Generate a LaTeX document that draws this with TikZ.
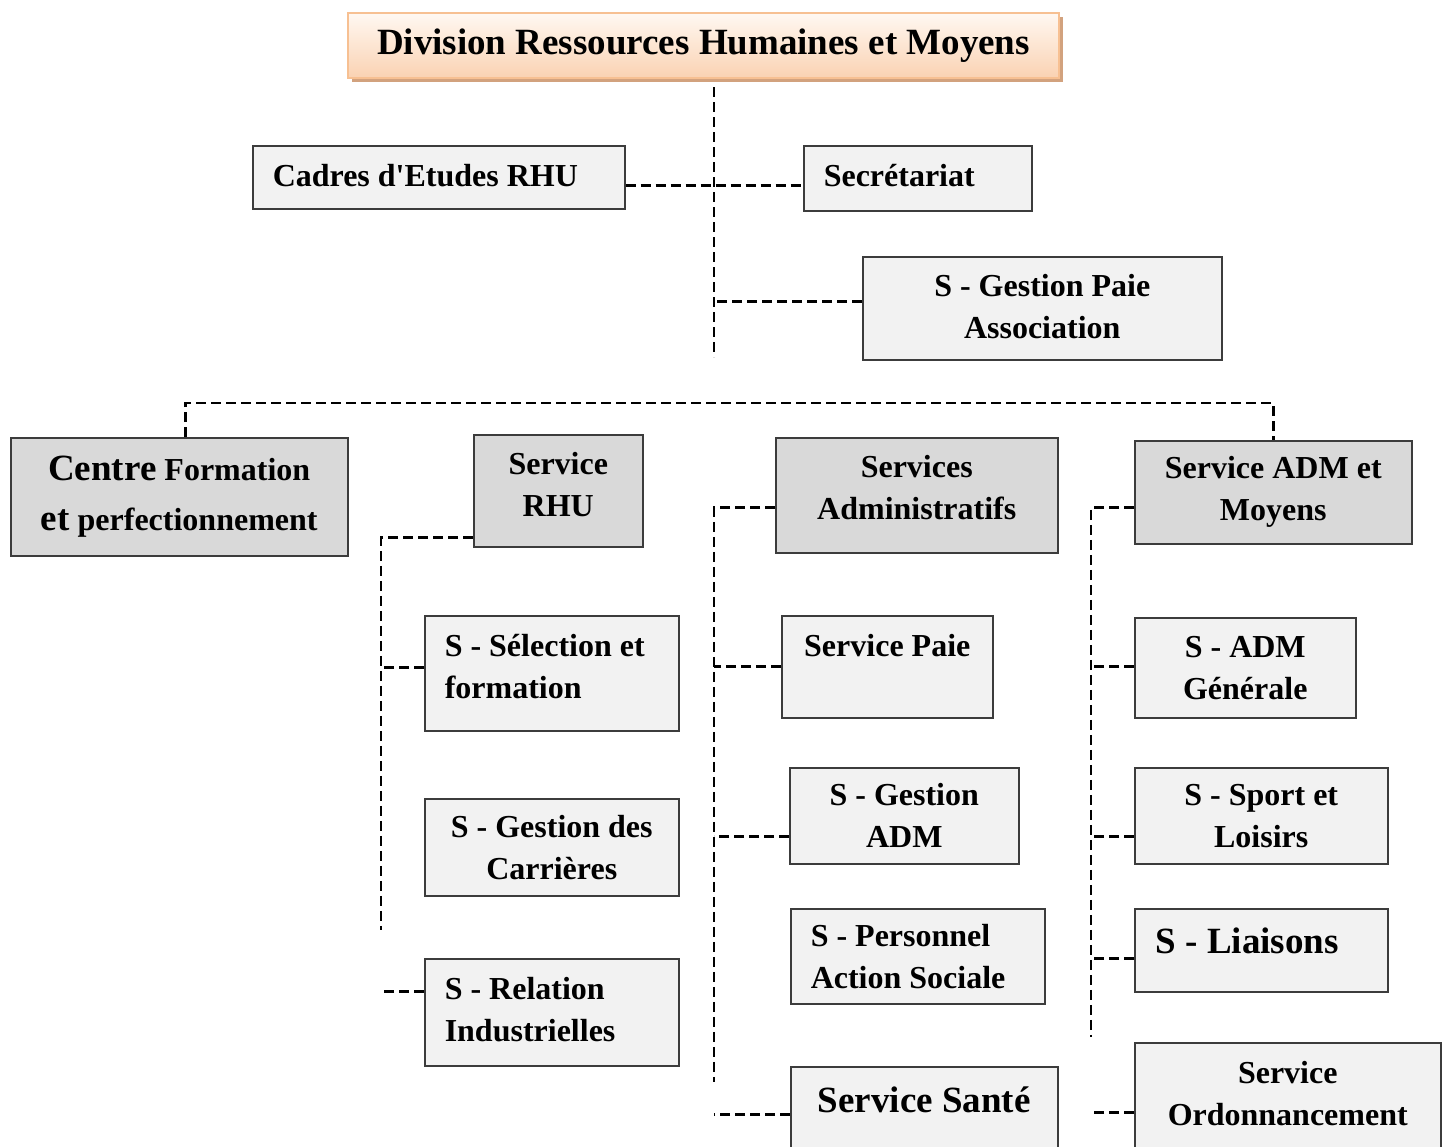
\documentclass[tikz,border=0pt]{standalone}
\usepackage{fontspec}
\setmainfont{Liberation Serif}
\usetikzlibrary{shadows}
\definecolor{paleBox}{RGB}{242,242,242}
\definecolor{headBox}{RGB}{217,217,217}
\definecolor{boxEdge}{RGB}{60,60,60}
\definecolor{peachTop}{RGB}{255,248,242}
\definecolor{peachBottom}{RGB}{250,210,178}
\definecolor{peachEdge}{RGB}{247,192,146}
\definecolor{peachShade}{RGB}{210,162,126}
\newcommand{\boxfont}{\fontsize{32}{42}\selectfont\bfseries}
\newcommand{\bigboxfont}{\fontsize{37}{48}\selectfont\bfseries}
% extra depth on the last line, lifts the text by half of it
\newcommand{\lift}[1]{\rule[-#1]{0pt}{#1}}

\begin{document}
\begin{tikzpicture}[
  x=1pt, y=-1pt,
  cell/.style={draw=boxEdge, line width=1.5pt, fill=paleBox, inner sep=0pt, anchor=north west, font=\boxfont, align=center},
  head/.style={cell, fill=headBox},
  wh/.style 2 args={minimum width=#1, minimum height=#2},
  lefttext/.style={align=flush left, text width=#1},
  link/.style={line width=2.6pt, dash pattern=on 10pt off 5pt}
]
\clip (0,0) rectangle (1443,1146);

% division head
\node[cell, wh={711}{65}, draw=peachEdge, line width=2pt, top color=peachTop, bottom color=peachBottom,
  font=\bigboxfont, drop shadow={shadow xshift=4pt, shadow yshift=-4pt, fill=peachShade, opacity=1}]
  (division) at (347,12) {Division Ressources Humaines et Moyens\lift{4pt}};
\node[cell, wh={372}{63}, lefttext=332] (cadres) at (252,145) {Cadres d\textquotesingle Etudes RHU\lift{4pt}};
\node[cell, wh={228}{65}, lefttext=188] (secretariat) at (803,145) {Secrétariat\lift{5pt}};
\node[cell, wh={359}{103}] (gestpaie) at (862,256) {S - Gestion Paie\\Association\lift{3pt}};

% the four departments
\node[head, wh={337}{118}, font=\fontsize{32}{50}\selectfont\bfseries] (centre) at (10,437)
  {{\fontsize{37}{50}\selectfont Centre} Formation\\{\fontsize{37}{50}\selectfont et} perfectionnement};
\node[head, wh={169}{112}] (rhu) at (473,434) {Service\\RHU\lift{12pt}};
\node[head, wh={282}{115}] (admin) at (775,437) {Services\\Administratifs\lift{16pt}};
\node[head, wh={277}{103}] (moyens) at (1134,440) {Service ADM et\\Moyens};

% Service RHU
\node[cell, wh={254}{115}, lefttext=214] (selection) at (424,615) {S - Sélection et\\formation\lift{14pt}};
\node[cell, wh={254}{97}] (carrieres) at (424,798) {S - Gestion des\\Carrières};
\node[cell, wh={254}{107}, lefttext=214] (relation) at (424,958) {S - Relation\\Industrielles\lift{6pt}};

% Services Administratifs
\node[cell, wh={211}{102}] (paie) at (781,615) {Service Paie\\\mbox{}};
\node[cell, wh={229}{96}] (gestadm) at (789,767) {S - Gestion\\ADM};
\node[cell, wh={254}{95}, lefttext=214] (personnel) at (790,908) {S - Personnel\\Action Sociale};
\node[cell, wh={267}{114}, font=\bigboxfont] (sante) at (790,1066) {Service Santé\\\mbox{}};

% Service ADM et Moyens
\node[cell, wh={221}{100}] (admgen) at (1134,617) {S - ADM\\Générale};
\node[cell, wh={253}{96}] (sport) at (1134,767) {S - Sport et\\Loisirs};
\node[cell, wh={253}{83}, lefttext=211, font=\bigboxfont, text depth=20pt] (liaisons) at (1134,908) {S - Liaisons};
\node[cell, wh={306}{110}] (ordo) at (1134,1042) {Service\\Ordonnancement\lift{8pt}};

% links
\coordinate (trunkEnd) at (714,357);
\coordinate (rhuEnd) at (381,930);
\coordinate (adminEnd) at (714,1082);
\coordinate (moyensEnd) at (1091,1037);
\draw[link] ([yshift=-8pt]division.south -| trunkEnd) -- (trunkEnd);
\draw[link] ([yshift=-8pt]cadres.east) -- ([yshift=-8pt]cadres.east -| secretariat.west);
\draw[link] ([yshift=7pt]gestpaie.west) -- ([yshift=7pt]gestpaie.west -| trunkEnd);
\draw[link] ([xshift=6pt]centre.north) |- ([yshift=37pt]moyens.north) -- (moyens.north);
\draw[link] ([yshift=-47pt]rhu.west) -| (rhuEnd);
\draw[link] ([yshift=-12.5pt]admin.west) -| (adminEnd);
\draw[link] ([yshift=-15.5pt]moyens.west) -| (moyensEnd);
\foreach \unit/\dy/\spine in {selection/6/rhuEnd, relation/21/rhuEnd,
    paie/0/adminEnd, gestadm/-21/adminEnd, sante/9/adminEnd,
    admgen/1/moyensEnd, sport/-21/moyensEnd, liaisons/-8.5/moyensEnd, ordo/-15/moyensEnd}{
  \draw[link] ([yshift=\dy pt]\unit.west) -- ([yshift=\dy pt]\unit.west -| \spine);
}
\end{tikzpicture}
\end{document}
